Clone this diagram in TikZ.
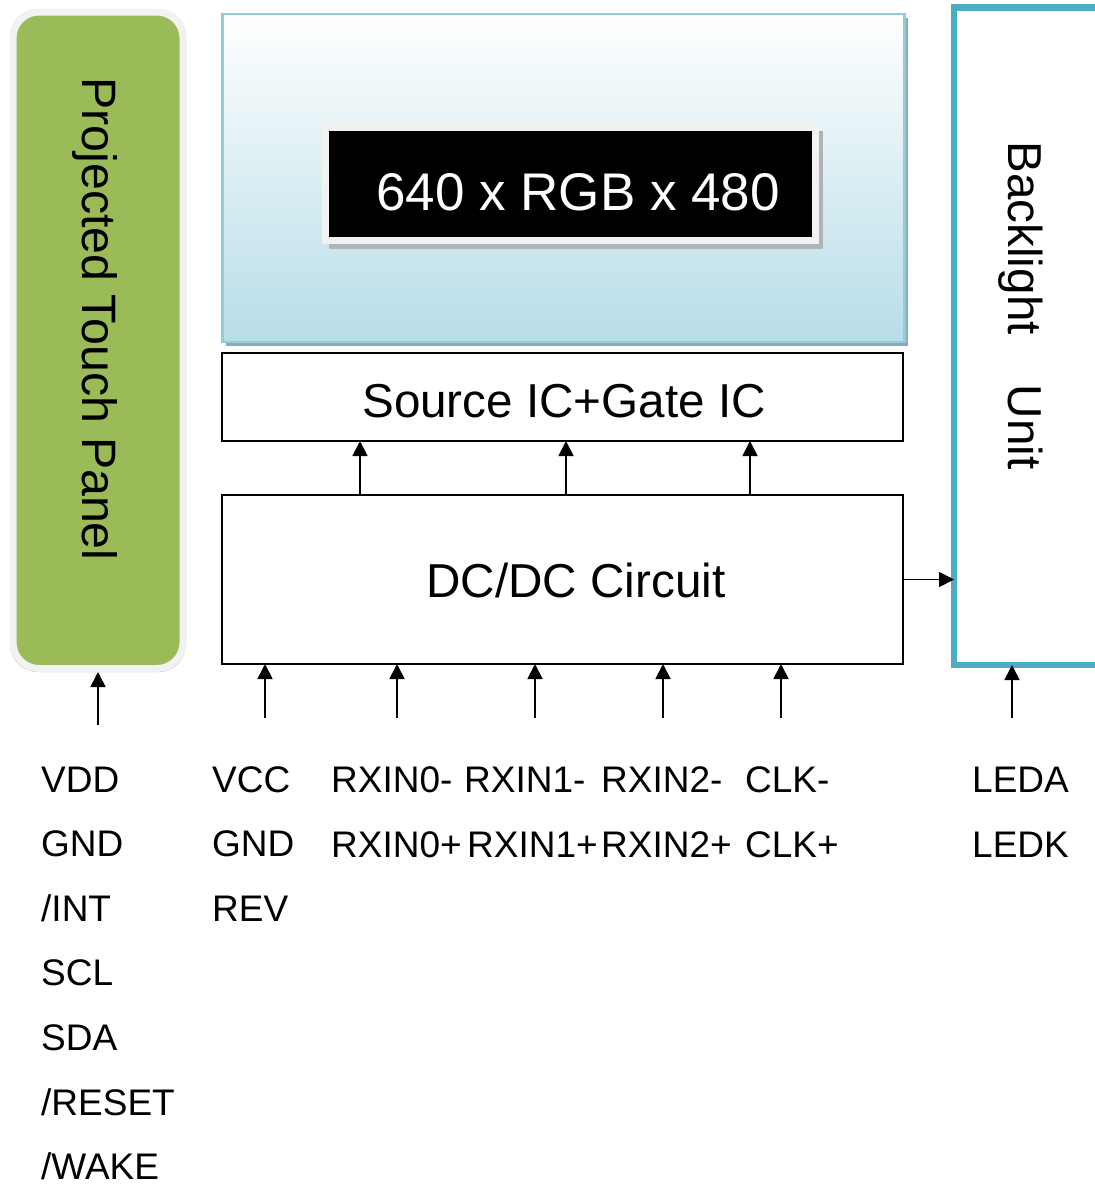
\documentclass[tikz,border=0pt]{standalone}
\usepackage{fontspec}
\setmainfont{Liberation Sans}
\usetikzlibrary{arrows.meta,calc}
\definecolor{tpgreen}{RGB}{155,187,89}
\definecolor{paleborder}{RGB}{242,242,242}
\definecolor{tpshadow}{RGB}{168,178,145}
\definecolor{lcdborder}{RGB}{146,205,220}
\definecolor{lcdblue}{RGB}{183,221,232}
\definecolor{lcdshadow}{RGB}{140,170,178}
\definecolor{resshadow}{RGB}{175,180,185}
\definecolor{teal}{RGB}{75,172,198}
\begin{document}
\begin{tikzpicture}[x=1pt,y=-1pt,
  arr/.style={line width=1.8pt,-{Triangle[length=15pt,width=15pt]}},
  blockbox/.style={draw=black,line width=2pt,inner sep=0pt,outer sep=0pt,anchor=north west},
  bigtext/.style={font=\fontsize{47.6}{57}\selectfont,inner sep=0pt},
  lbl/.style={font=\fontsize{37}{44}\selectfont,anchor=base west,inner sep=0pt}]
\clip (0,0) rectangle (1095,1187);
\fill[white] (0,0) rectangle (1095,1187);

% Projected touch panel
\fill[tpshadow,rounded corners=28pt] (10,9) rectangle (186,672);
\node[draw=paleborder,line width=7pt,fill=tpgreen,rounded corners=26pt,
      minimum width=170pt,minimum height=656.5pt,inner sep=0pt,outer sep=3.5pt,
      anchor=north west] (tp) at (9.5,8.5) {};
\node[bigtext,font=\fontsize{48.3}{58}\selectfont,rotate=-90,anchor=base] (tptext) at (82,319) {Projected Touch Panel};

% LCD panel
\fill[lcdshadow] (226,18) rectangle (907.5,346);
\node[shade,top color=white,bottom color=lcdblue,draw=lcdborder,line width=2.5pt,
      minimum width=682pt,minimum height=328pt,inner sep=0pt,outer sep=0pt,
      anchor=north west] (lcd) at (222.5,14) {};
\fill[resshadow] (329,131) rectangle (823,249);
\node[fill=black,draw=paleborder,line width=7pt,minimum width=490pt,minimum height=113.5pt,
      inner sep=0pt,outer sep=0pt,anchor=north west] (res) at (325,127) {};
\node[font=\fontsize{53}{64}\selectfont,text=white,inner sep=0pt,anchor=base] (restext) at (578,210) {640 x RGB x 480};

% Source IC + Gate IC
\node[blockbox,minimum width=681pt,minimum height=88pt] (src) at (222,353) {};
\node[bigtext,anchor=base] (srctext) at (564,417) {Source IC+Gate IC};

% DC/DC
\node[blockbox,minimum width=681pt,minimum height=169pt] (dc) at (222,495) {};
\node[bigtext,anchor=base] (dctext) at (576,597) {DC/DC Circuit};

% Backlight
\node[draw=teal,line width=6.5pt,fill=white,minimum width=161pt,minimum height=657.5pt,
      inner sep=0pt,outer sep=0pt,anchor=north west] (blu) at (954,7.5) {};
\node[bigtext,rotate=-90,anchor=base] (blutext) at (1008,305.5) {Backlight\hspace{50pt}Unit};

% arrows DC -> Source
\foreach \x [count=\i] in {360,566,750}{
  \coordinate (u\i) at (\x,0);
  \draw[arr] (u\i |- dc.north) -- (u\i |- src.south);
}
% input arrows into DC
\foreach \x [count=\i] in {265,397,535,663,781}{
  \coordinate (in\i) at (\x,718);
  \draw[arr] (in\i) -- (in\i |- dc.south);
}
% touch panel input
\coordinate (tpin) at (98,725);
\draw[arr] (tpin) -- (tpin |- tp.south);
% backlight input
\coordinate (ledin) at (1012,718);
\draw[arr] (ledin) -- (ledin |- blu.south);
% DC -> backlight
\draw[arr] (dc.east) -- (dc.east -| blu.west);

% labels
\foreach \t [count=\i] in {VDD,GND,/INT,SCL,SDA,/RESET,/WAKE}{
  \node[lbl] (tpl\i) at (41,{792+64.6*(\i-1)}) {\t};
}
\foreach \t [count=\i] in {VCC,GND,REV}{
  \node[lbl] (pwl\i) at (212,{792+64.6*(\i-1)}) {\t};
}
\node[lbl] (r0m) at (331,792) {RXIN0-};
\node[lbl] (r1m) at (464,792) {RXIN1-};
\node[lbl] (r2m) at (601,792) {RXIN2-};
\node[lbl] (ckm) at (745,792) {CLK-};
\node[lbl] (r0p) at (331,857) {RXIN0+};
\node[lbl] (r1p) at (467,857) {RXIN1+};
\node[lbl] (r2p) at (601,857) {RXIN2+};
\node[lbl] (ckp) at (745,857) {CLK+};
\node[lbl] (leda) at (972,792) {LEDA};
\node[lbl] (ledk) at (972,857) {LEDK};
\end{tikzpicture}
\end{document}
